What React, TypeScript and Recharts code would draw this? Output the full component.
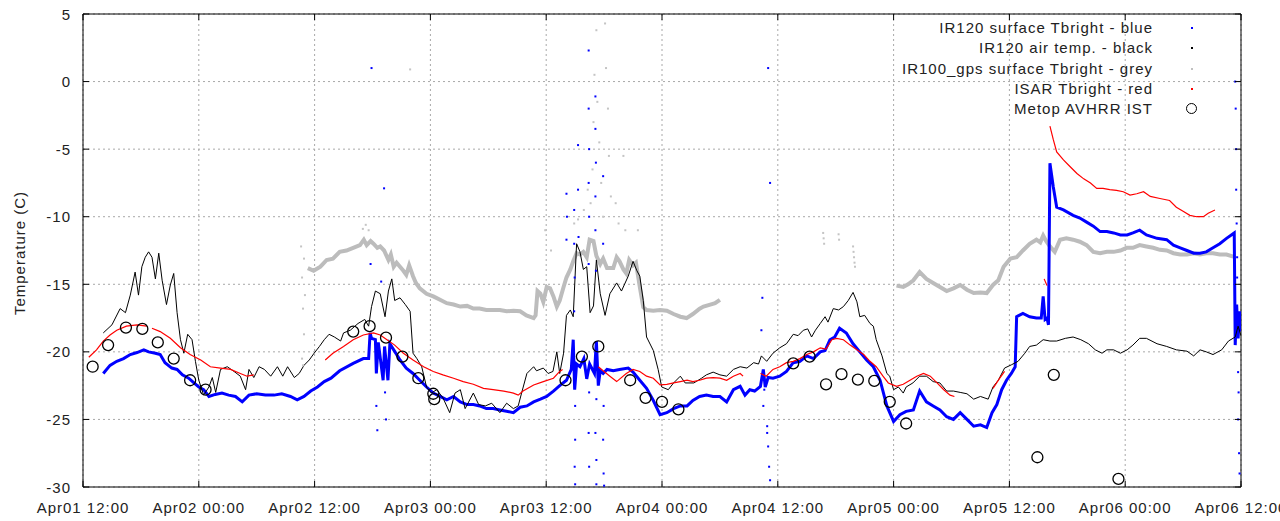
import React from "react";
import {
  ComposedChart, Line, Scatter, XAxis, YAxis, CartesianGrid, ReferenceArea,
} from "recharts";

// x is hours since Apr01 12:00, y is temperature in C
const xTicks = [0, 12, 24, 36, 48, 60, 72, 84, 96, 108, 120];
const xTickLabels = [
  "Apr01 12:00", "Apr02 00:00", "Apr02 12:00", "Apr03 00:00", "Apr03 12:00", "Apr04 00:00",
  "Apr04 12:00", "Apr05 00:00", "Apr05 12:00", "Apr06 00:00", "Apr06 12:00",
];
const xMinorTicks = [3, 6, 9, 15, 18, 21, 27, 30, 33, 39, 42, 45, 51, 54, 57, 63, 66, 69, 75, 78, 81, 87, 90, 93, 99, 102, 105, 111, 114, 117];
const yTicks = [-30, -25, -20, -15, -10, -5, 0, 5];

const irSurface: [number, number | null][] = [
  [2.1, -21.6], [2.8, -21.0], [3.5, -20.7], [4.2, -20.5], [4.9, -20.2], [5.6, -20.05], [6.3, -19.85], [6.8, -20.0],
  [7.5, -20.1], [8.0, -20.2], [8.5, -20.8], [9.2, -21.2], [9.75, -21.3], [10.3, -21.7], [10.95, -21.95], [11.5, -22.3],
  [12.0, -22.6], [12.5, -22.8], [13.05, -23.3], [13.7, -23.15], [14.4, -23.05], [15.1, -23.2], [15.8, -23.3], [16.5, -23.7],
  [17.2, -23.2], [18.0, -23.1], [18.9, -23.2], [19.8, -23.2], [20.6, -23.1], [21.5, -23.3], [22.2, -23.55], [22.9, -23.3],
  [23.6, -22.9], [24.3, -22.6], [25.0, -22.2], [25.7, -21.95], [26.6, -21.4], [28.0, -20.85], [29.05, -20.5], [29.6, -20.5],
  [29.75, -18.6], [29.9, -19.0], [30.3, -19.1], [30.4, -21.6], [30.6, -19.3], [31.1, -22.1], [31.25, -19.6], [31.6, -22.1],
  [31.8, -19.4], [32.2, -19.85], [32.85, -20.6], [33.5, -21.2], [34.2, -21.6], [34.9, -22.1], [35.6, -22.6], [36.3, -23.05],
  [37.0, -23.3], [37.7, -23.55], [38.4, -23.3], [39.1, -23.7], [39.8, -23.9], [40.45, -23.9], [41.1, -24.0], [41.8, -24.2],
  [42.5, -24.2], [43.2, -24.3], [43.9, -24.4], [44.6, -24.5], [45.3, -24.1], [46.0, -24.0], [46.7, -23.7], [47.4, -23.5],
  [48.05, -23.3], [48.75, -22.9], [49.4, -22.5], [50.1, -22.1], [50.6, -21.3], [50.8, -19.1], [50.95, -22.8], [51.15, -20.9],
  [51.5, -21.1], [51.9, -20.5], [52.2, -22.0], [52.5, -20.9], [53.0, -21.6], [53.2, -19.2], [53.4, -22.5], [53.6, -21.4],
  [53.9, -21.6], [54.3, -21.3], [54.95, -21.4], [55.6, -21.3], [56.5, -21.2], [57.0, -21.5], [57.7, -22.1], [58.4, -22.7],
  [59.1, -23.6], [59.8, -24.65], [60.5, -24.5], [61.2, -24.2], [61.9, -24.0], [62.6, -24.0], [63.2, -23.6], [63.9, -23.3],
  [64.6, -23.2], [65.3, -23.3], [66.0, -23.3], [66.7, -23.7], [67.4, -22.8], [68.1, -22.55], [68.6, -23.2], [69.1, -22.8],
  [69.6, -22.9], [70.2, -22.55], [70.5, -21.3], [70.7, -22.6], [71.0, -21.9], [71.5, -21.95], [72.2, -21.8], [72.9, -21.45],
  [73.6, -20.8], [74.3, -20.7], [75.0, -20.3], [75.7, -20.5], [76.4, -20.0], [76.9, -19.9], [77.4, -19.1], [77.9, -18.9],
  [78.4, -18.25], [79.1, -18.6], [79.8, -19.4], [80.5, -20.0], [81.2, -20.6], [81.9, -21.1], [82.6, -22.1], [83.3, -24.0],
  [84.0, -25.15], [84.65, -24.65], [85.3, -24.4], [86.05, -24.3], [86.7, -22.9], [87.4, -23.7], [88.1, -24.0], [88.8, -24.3],
  [89.5, -24.8], [90.2, -25.0], [90.9, -24.5], [91.6, -25.0], [92.3, -25.5], [93.0, -25.4], [93.65, -25.6], [94.2, -24.5],
  [94.7, -23.9], [95.2, -22.8], [95.7, -22.1], [96.2, -21.6], [96.6, -21.1], [96.75, -17.4], [97.4, -17.15], [98.1, -17.4],
  [98.8, -17.5], [99.3, -17.5], [99.5, -15.9], [99.7, -17.6], [99.9, -17.5], [100.05, -18.0], [100.2, -6.05], [100.55, -7.8],
  [100.9, -9.3], [101.6, -9.5], [102.6, -9.9], [103.3, -10.1], [104.0, -10.4], [104.7, -10.7], [105.4, -11.1], [106.1, -11.1],
  [106.8, -11.2], [107.5, -11.35], [108.2, -11.35], [108.8, -11.2], [109.5, -11.0], [110.2, -11.35], [111.3, -11.6], [112.3, -11.7],
  [113.0, -12.1], [113.7, -12.3], [114.4, -12.5], [115.1, -12.7], [115.75, -12.7], [116.4, -12.6], [117.1, -12.3], [117.8, -12.0],
  [118.5, -11.6], [119.0, -11.35], [119.3, -11.2], [119.4, -19.5], [119.55, -16.5], [119.7, -19.0], [119.85, -17.0], [120.0, -18.5],
];

const irSurfaceStray: [number, number][] = [
  [29.9, 1.0], [30.4, -24.0], [30.5, -25.8], [31.3, -23.0], [31.4, -25.0], [31.2, -7.9], [29.8, -13.5], [30.9, -14.8],
  [50.1, -8.3], [50.15, -10.0], [50.1, -11.7], [50.9, -9.5], [50.9, -12.0], [50.95, -14.5], [50.9, -17.0], [51.0, -24.0],
  [51.0, -26.5], [50.95, -28.5], [51.0, -29.8], [51.3, -4.7], [51.3, -8.0], [51.35, -11.5],
  [52.4, 2.3], [52.4, -2.0], [52.45, -5.0], [52.4, -7.5], [52.45, -10.0], [52.4, -13.5], [52.45, -23.0], [52.4, -26.0], [52.45, -28.5],
  [53.1, -1.1], [53.1, -3.5], [53.15, -6.0], [53.1, -8.5], [53.1, -11.0], [53.15, -14.0], [53.2, -23.5], [53.1, -26.0],
  [53.2, -28.0], [53.2, -29.8], [53.9, -7.0], [53.9, -12.0], [53.95, -24.0], [53.9, -26.5], [53.95, -29.0], [54.0, -29.9],
  [70.3, -18.4], [70.5, -24.0], [70.9, -25.5], [71.0, -27.0], [71.1, -28.5], [71.2, -29.5], [70.9, -26.0], [70.6, -22.8],
  [70.4, -16.0], [71.0, 1.0], [71.2, -7.5],
  [119.4, 0.0], [119.45, -2.0], [119.5, -5.0], [119.5, -8.0], [119.55, -10.5], [119.6, -13.0], [119.6, -14.5], [119.7, -21.5],
  [119.75, -23.0], [119.7, -25.0], [119.8, -27.5], [119.85, -29.0],
];

const irAir: [number, number | null][] = [
  [2.1, -18.6], [3.0, -18.0], [3.85, -16.8], [4.4, -17.1], [4.9, -15.8], [5.4, -14.1], [5.75, -15.8], [6.1, -13.7],
  [6.45, -13.0], [6.8, -12.6], [7.15, -13.0], [7.5, -14.6], [7.85, -12.7], [8.2, -14.7], [8.65, -16.5], [9.05, -15.05],
  [9.4, -14.2], [9.75, -17.1], [10.1, -19.1], [10.45, -20.1], [10.85, -18.7], [11.3, -19.1], [11.65, -20.7], [12.0, -22.1],
  [12.5, -23.2], [13.05, -22.6], [13.4, -21.9], [13.75, -23.0], [14.25, -21.3], [14.95, -21.1], [15.65, -21.45], [16.3, -21.8],
  [16.85, -22.8], [17.2, -21.3], [17.7, -21.9], [18.25, -21.1], [18.8, -21.3], [19.45, -21.8], [20.15, -21.1], [20.7, -21.8],
  [21.2, -21.1], [21.9, -21.9], [22.4, -21.6], [22.9, -21.0], [23.45, -20.6], [23.95, -20.1], [24.5, -19.6], [25.0, -19.1],
  [25.5, -18.7], [26.05, -18.9], [26.7, -19.2], [27.0, -18.6], [27.7, -18.4], [28.5, -17.9], [29.2, -17.6], [29.6, -18.1],
  [29.9, -16.65], [30.3, -15.5], [30.8, -15.7], [31.3, -17.4], [31.65, -15.5], [32.0, -14.6], [32.3, -16.2], [32.85, -16.0],
  [33.4, -16.5], [33.9, -17.0], [34.2, -20.1], [34.6, -20.5], [35.1, -21.1], [35.6, -22.6], [36.1, -23.05], [36.65, -22.8],
  [37.3, -23.4], [38.0, -24.5], [38.55, -23.05], [39.1, -22.8], [39.6, -24.2], [40.45, -23.05], [41.0, -23.9], [41.7, -24.0],
  [42.35, -23.8], [43.2, -24.5], [43.9, -23.8], [44.6, -24.2], [45.1, -24.0], [45.45, -23.05], [46.0, -21.6], [46.7, -21.1],
  [47.0, -21.4], [47.7, -21.2], [48.2, -21.6], [48.7, -21.45], [49.1, -20.0], [49.4, -21.6], [49.8, -20.1], [50.1, -17.3],
  [50.5, -16.9], [50.8, -17.4], [51.15, -12.0], [51.5, -12.6], [51.85, -13.9], [52.2, -13.7], [52.55, -17.1], [52.9, -16.6],
  [53.2, -13.2], [53.6, -15.7], [54.1, -17.3], [54.6, -15.7], [55.3, -14.9], [55.8, -15.5], [56.5, -14.4], [57.0, -13.3],
  [57.4, -14.0], [57.7, -14.4], [58.06, -16.2], [58.4, -18.9], [59.1, -19.9], [59.6, -21.3], [59.97, -22.6], [60.65, -22.8],
  [61.2, -22.3], [61.9, -21.8], [62.4, -22.3], [63.3, -22.3], [64.1, -21.95], [64.6, -21.7], [65.3, -21.5], [66.0, -21.7],
  [66.7, -21.8], [67.4, -21.3], [68.1, -21.1], [68.8, -21.2], [69.5, -20.8], [70.0, -20.9], [70.3, -20.3], [70.85, -20.7],
  [71.5, -20.1], [72.2, -19.7], [72.9, -19.4], [73.6, -18.7], [74.1, -18.8], [74.65, -18.4], [75.1, -18.3], [75.5, -18.9],
  [75.9, -18.4], [76.4, -17.9], [76.9, -17.4], [77.2, -17.8], [77.75, -16.8], [78.3, -16.9], [78.8, -16.65], [79.3, -16.2],
  [79.8, -15.6], [80.2, -16.3], [80.5, -17.4], [81.0, -17.3], [81.55, -17.9], [81.9, -18.1], [82.2, -19.1], [82.8, -20.3],
  [83.3, -21.6], [83.6, -21.8], [84.0, -22.8], [84.5, -22.6], [85.0, -23.05], [85.3, -22.6], [86.0, -22.3], [86.7, -21.8],
  [87.4, -21.8], [88.1, -22.2], [88.8, -22.3], [89.5, -22.9], [90.2, -22.9], [90.9, -23.0], [91.6, -23.1], [92.3, -23.5],
  [93.0, -23.3], [93.8, -23.5], [94.3, -22.6], [94.85, -22.1], [95.5, -21.2], [96.2, -20.96], [96.9, -20.7], [97.6, -20.1],
  [98.1, -19.6], [98.8, -19.5], [99.5, -19.1], [100.2, -19.2], [100.9, -19.2], [101.8, -19.0], [102.6, -18.9], [103.4, -19.1],
  [104.2, -19.4], [104.9, -19.85], [105.6, -20.1], [106.1, -19.85], [106.8, -19.85], [107.5, -20.1], [108.2, -19.85], [108.8, -19.5],
  [109.5, -19.0], [110.2, -19.0], [111.3, -19.4], [112.3, -19.6], [113.3, -19.85], [114.4, -19.95], [115.1, -20.3], [115.75, -19.85],
  [116.4, -20.0], [117.1, -20.2], [118.0, -19.85], [118.7, -19.2], [119.4, -18.9], [119.7, -18.1], [120.0, -18.8],
];

const gpsSurface: [number, number | null][] = [
  [23.3, -13.8], [23.9, -14.0], [24.6, -13.7], [25.25, -13.2], [25.9, -13.1], [26.6, -12.6], [27.3, -12.5], [28.0, -12.3],
  [28.7, -12.1], [29.1, -11.7], [29.4, -12.1], [29.8, -11.8], [30.1, -12.0], [30.5, -12.3], [30.8, -12.2], [31.2, -12.5],
  [31.65, -13.2], [31.9, -12.8], [32.2, -13.7], [32.5, -13.4], [32.85, -13.7], [33.2, -14.0], [33.5, -14.3], [33.8, -13.6],
  [34.2, -14.4], [34.5, -14.9], [34.9, -15.3], [35.6, -15.7], [36.3, -15.9], [37.0, -16.15], [37.7, -16.4], [38.4, -16.5],
  [39.1, -16.65], [39.8, -16.6], [40.45, -16.8], [41.1, -16.8], [41.8, -16.9], [42.5, -16.9], [43.2, -16.9], [43.9, -17.0],
  [44.6, -16.95], [45.3, -17.0], [45.95, -17.3], [46.7, -17.5], [46.9, -17.3], [47.1, -15.5], [47.4, -15.7], [47.7, -16.3],
  [48.05, -15.2], [48.4, -15.3], [48.75, -15.9], [49.1, -16.65], [49.4, -16.2], [49.8, -15.2], [50.1, -14.5], [50.5, -13.9],
  [50.8, -13.3], [51.15, -12.7], [51.5, -12.8], [51.85, -12.6], [52.2, -13.0], [52.5, -11.7], [52.9, -11.8], [53.2, -12.9],
  [53.6, -13.5], [53.9, -13.1], [54.3, -13.8], [54.95, -13.8], [55.3, -13.0], [55.6, -13.3], [56.0, -13.9], [56.3, -14.2],
  [56.6, -13.2], [57.0, -13.6], [57.3, -13.4], [57.7, -15.2], [58.06, -16.7], [58.4, -16.9], [59.1, -16.95], [59.8, -16.9],
  [60.5, -16.95], [61.2, -17.2], [61.9, -17.4], [62.55, -17.5], [63.2, -17.2], [63.9, -16.8], [64.3, -16.65], [65.0, -16.5],
  [65.5, -16.4], [66.0, -16.15], [66.2, null],
  [84.3, -15.1], [85.0, -15.2], [85.5, -15.0], [86.05, -14.7], [86.7, -14.1], [87.4, -14.6], [88.1, -14.9], [88.8, -15.2],
  [89.5, -15.5], [90.2, -15.3], [90.9, -15.05], [91.6, -15.4], [92.3, -15.65], [93.0, -15.6], [93.65, -15.65], [94.3, -15.05],
  [94.85, -14.7], [95.4, -13.7], [96.1, -13.1], [96.75, -13.0], [97.4, -12.5], [98.1, -12.0], [98.8, -11.7], [99.2, -11.9],
  [99.5, -11.4], [99.8, -11.8], [100.2, -12.2], [100.7, -12.6], [101.25, -11.7], [101.9, -11.6], [102.6, -11.7], [103.3, -11.85],
  [104.0, -12.1], [104.7, -12.6], [105.4, -12.7], [106.1, -12.6], [106.8, -12.6], [107.5, -12.5], [108.15, -12.3], [108.8, -12.3],
  [109.5, -12.1], [110.2, -12.2], [110.9, -12.3], [111.6, -12.45], [112.3, -12.5], [113.0, -12.7], [113.7, -12.8], [114.4, -12.8],
  [115.1, -12.7], [115.75, -12.8], [116.4, -12.7], [117.1, -12.7], [117.8, -12.8], [118.5, -12.8], [119.2, -12.95],
];

const gpsStray: [number, number][] = [
  [22.6, -12.2], [22.7, -14.5], [22.8, -16.8], [22.9, -18.7], [22.7, -20.5], [22.8, -21.0], [23.0, -15.8], [22.9, -13.1],
  [29.0, -10.9], [29.3, -10.6], [29.6, -11.0], [33.9, 0.9], [47.9, -11.0], [48.5, -12.5], [50.9, -10.5], [51.3, -10.2],
  [51.9, -9.5], [52.3, -8.0], [52.6, -9.0], [52.8, -6.5], [52.9, -3.0], [53.0, 0.5], [53.2, 3.8], [53.3, -1.5], [53.5, -4.5],
  [53.7, -7.5], [53.9, -10.0], [54.1, 4.3], [54.2, 1.0], [54.4, -2.0], [54.5, -5.5], [54.7, -8.5], [55.2, -9.0], [55.5, -10.5],
  [56.0, -5.5], [56.2, -11.0], [57.5, -11.0],
  [76.7, -11.2], [76.75, -11.6], [76.8, -12.0], [78.3, -11.3], [78.35, -11.7], [79.8, -12.2], [79.85, -12.6], [79.9, -13.0],
  [79.95, -13.4], [80.0, -13.7],
];

const isar: [number, number | null][] = [
  [0.6, -20.4], [1.4, -19.85], [2.1, -19.2], [2.8, -18.75], [3.5, -18.4], [4.5, -18.1], [5.6, -18.0], [6.6, -18.1], [6.9, null],
  [7.15, -18.25], [8.0, -18.5], [9.05, -19.0], [10.1, -19.7], [11.1, -20.2], [12.2, -20.6], [13.2, -21.1], [14.25, -21.2],
  [15.3, -21.3], [16.3, -21.6], [17.0, -21.8], [17.7, -21.7], [18.0, null],
  [25.1, -20.6], [25.9, -20.1], [27.0, -19.6], [28.0, -19.1], [29.05, -18.75], [30.1, -18.6], [30.8, -18.75], [31.5, -19.1],
  [32.3, -19.5], [33.2, -20.1], [34.2, -20.6], [35.3, -21.1], [36.3, -21.45], [37.3, -21.7], [38.4, -21.95], [39.4, -22.2],
  [40.45, -22.4], [41.5, -22.7], [42.5, -22.8], [43.6, -22.9], [44.6, -23.05], [45.1, -23.2], [45.6, -22.9], [46.7, -22.45],
  [47.7, -22.2], [48.75, -21.95], [49.4, -21.45], [49.7, -21.3], [50.0, null],
  [53.4, -21.1], [53.9, -21.4], [54.6, -21.8], [55.3, -22.2], [56.3, -21.6], [57.0, -21.3], [57.7, -21.45], [58.4, -21.8],
  [59.1, -21.95], [59.8, -22.45], [60.5, -22.4], [61.2, -22.3], [61.9, -22.2], [62.6, -22.1], [63.2, -22.2], [63.9, -22.1],
  [64.6, -21.95], [65.3, -21.9], [66.0, -21.95], [66.7, -22.1], [67.4, -21.8], [68.1, -21.6], [68.4, -21.8], [68.8, null],
  [70.2, -21.6], [70.8, -21.8], [71.5, -21.3], [72.2, -21.1], [72.9, -20.8], [73.6, -20.7], [74.3, -20.5], [75.0, -20.2],
  [75.7, -20.0], [76.4, -19.7], [77.0, -19.8], [77.6, -19.1], [78.1, -19.0], [78.8, -19.1], [79.5, -19.5], [80.2, -19.85],
  [80.9, -20.2], [81.55, -20.7], [82.2, -21.1], [82.9, -21.8], [83.45, -22.3], [84.3, -22.55], [85.0, -22.4], [85.7, -22.1],
  [86.4, -21.8], [87.1, -21.6], [87.8, -21.8], [88.5, -22.3], [89.2, -22.8], [89.85, -23.2], [90.3, -23.3], [90.6, null],
  [94.3, -22.7], [95.0, -21.95], [95.5, -21.45], [95.8, null],
  [99.6, -14.6], [99.9, -15.1], [100.0, null],
  [100.2, -3.3], [100.55, -4.3], [100.9, -5.2], [101.6, -5.8], [102.3, -6.3], [103.0, -6.8], [103.7, -7.2], [104.4, -7.5],
  [105.05, -7.9], [105.7, -7.9], [106.4, -8.0], [107.1, -8.05], [107.8, -8.15], [108.5, -8.4], [109.2, -8.3], [109.9, -8.15],
  [110.6, -8.5], [111.6, -8.65], [112.6, -8.8], [113.3, -9.3], [114.0, -9.6], [114.7, -9.9], [115.4, -10.0], [116.1, -10.0],
  [116.6, -9.75], [117.3, -9.5],
];

const metopIst: [number, number][] = [
  [1.0, -21.1], [2.6, -19.5], [4.45, -18.2], [6.15, -18.3], [7.75, -19.3], [9.4, -20.5], [11.1, -22.1], [12.7, -22.8],
  [28.0, -18.5], [29.7, -18.1], [31.4, -18.95], [33.1, -20.35], [34.75, -21.95], [36.3, -23.1], [36.4, -23.5],
  [50.0, -22.1], [51.7, -20.35], [53.4, -19.6], [56.7, -22.1], [58.3, -23.4], [60.0, -23.7], [61.7, -24.25],
  [73.6, -20.85], [75.3, -20.35], [77.0, -22.4], [78.6, -21.65], [80.3, -22.05], [82.0, -22.15], [83.6, -23.7], [85.3, -25.3],
  [98.9, -27.8], [100.6, -21.7], [107.3, -29.4],
];

const toPts = (arr: [number, number | null][]) => arr.map(([t, v]) => ({ t, v }));

const PLOT_TOP = 14;
const PLOT_BOTTOM = 487;
const PLOT_LEFT = 83;
const PLOT_RIGHT = 1241;
const FONT = "'Liberation Sans', Arial, sans-serif";
const TEXT = "#222";

const XMajorTick = (props: any) => {
  const { x, index } = props;
  return (
    <g>
      <line x1={x} x2={x} y1={PLOT_BOTTOM} y2={PLOT_BOTTOM - 6} stroke="#000" />
      <line x1={x} x2={x} y1={PLOT_TOP} y2={PLOT_TOP + 6} stroke="#000" />
      <text x={x} y={507} textAnchor="middle" dominantBaseline="central" fontFamily={FONT}
        fontSize={15} letterSpacing={1} fill={TEXT}>{xTickLabels[index]}</text>
    </g>
  );
};

const XMinorTick = (props: any) => {
  const { x } = props;
  return (
    <g>
      <line x1={x} x2={x} y1={PLOT_BOTTOM} y2={PLOT_BOTTOM - 3} stroke="#000" />
      <line x1={x} x2={x} y1={PLOT_TOP} y2={PLOT_TOP + 3} stroke="#000" />
    </g>
  );
};

const YTick = (props: any) => {
  const { y, payload } = props;
  return (
    <g>
      <line x1={PLOT_LEFT} x2={PLOT_LEFT + 6} y1={y} y2={y} stroke="#000" />
      <line x1={PLOT_RIGHT} x2={PLOT_RIGHT - 6} y1={y} y2={y} stroke="#000" />
      <text x={71} y={y} textAnchor="end" dominantBaseline="central" fontFamily={FONT}
        fontSize={15} letterSpacing={1} fill={TEXT}>{payload.value}</text>
    </g>
  );
};

const dotShape = (color: string, size: number) => (p: any) =>
  <rect x={p.cx - size / 2} y={p.cy - size / 2} width={size} height={size} fill={color} />;

const ringShape = (p: any) =>
  <circle cx={p.cx} cy={p.cy} r={5.5} fill="none" stroke="#000" strokeWidth={1.3} />;

const legendRows = [
  { label: "IR120 surface Tbright - blue", color: "#0000ff", ring: false },
  { label: "IR120 air temp. - black", color: "#000000", ring: false },
  { label: "IR100_gps surface Tbright - grey", color: "#c0c0c0", ring: false },
  { label: "ISAR Tbright - red", color: "#ff0000", ring: false },
  { label: "Metop AVHRR IST", color: "#000000", ring: true },
];

export default function App() {
  return (
    <div style={{ position: "absolute", left: 0, top: 0, width: 1280, height: 521, background: "#fff" }}>
      <ComposedChart width={1280} height={521} margin={{ top: PLOT_TOP, right: 1280 - PLOT_RIGHT, bottom: 0, left: 0 }}>
        <CartesianGrid stroke="#a8a8a8" strokeDasharray="2 3" ticks={undefined} />
        <XAxis type="number" dataKey="t" domain={[0, 120]} ticks={xTicks} interval={0} height={521 - PLOT_BOTTOM}
          axisLine={false} tickLine={false} tick={XMajorTick} allowDataOverflow />
        <XAxis xAxisId="minor" orientation="top" type="number" dataKey="t" domain={[0, 120]} ticks={xMinorTicks}
          interval={0} height={0} axisLine={false} tickLine={false} tick={XMinorTick} />
        <YAxis type="number" domain={[-30, 5]} ticks={yTicks} interval={0} width={PLOT_LEFT} axisLine={false}
          tickLine={false} tick={YTick} allowDataOverflow
          label={(p: any) => (
            <text x={19} y={253} transform="rotate(-90 19 253)" textAnchor="middle" dominantBaseline="central"
              fontFamily={FONT} fontSize={15} letterSpacing={1} fill={TEXT}>Temperature (C)</text>
          )} />
        <ReferenceArea x1={0} x2={120} y1={-30} y2={5} fill="none" stroke="#000" strokeWidth={1} fillOpacity={0} />
        <Line data={toPts(gpsSurface)} dataKey="v" type="linear" stroke="#bcbcbc" strokeWidth={4} dot={false}
          isAnimationActive={false} />
        <Scatter data={toPts(gpsStray)} dataKey="v" shape={dotShape("#c4c4c4", 2)} isAnimationActive={false} />
        <Line data={toPts(irSurface)} dataKey="v" type="linear" stroke="#0000ff" strokeWidth={3} dot={false}
          isAnimationActive={false} />
        <Scatter data={toPts(irSurfaceStray)} dataKey="v" shape={dotShape("#0000ff", 2)} isAnimationActive={false} />
        <Line data={toPts(irAir)} dataKey="v" type="linear" stroke="#000000" strokeWidth={1} dot={false}
          isAnimationActive={false} />
        <Line data={toPts(isar)} dataKey="v" type="linear" stroke="#ff0000" strokeWidth={1.2} dot={false}
          isAnimationActive={false} />
        <Scatter data={toPts(metopIst)} dataKey="v" shape={ringShape} isAnimationActive={false} />
      </ComposedChart>
      <div style={{ position: "absolute", left: 0, top: 0, width: 1280, height: 0, fontFamily: FONT, fontSize: 15,
        letterSpacing: 1, color: TEXT }}>
        {legendRows.map((r, i) => {
          const cy = 28 + i * 20.25;
          return (
            <React.Fragment key={r.label}>
              <div style={{ position: "absolute", right: 1280 - 1153, top: cy - 9, lineHeight: "18px",
                whiteSpace: "nowrap" }}>{r.label}</div>
              {r.ring ? (
                <div style={{ position: "absolute", left: 1186, top: cy - 6, width: 9, height: 9,
                  border: "1.3px solid #000", borderRadius: "50%" }} />
              ) : (
                <div style={{ position: "absolute", left: 1191, top: cy - 1, width: 2, height: 2,
                  background: r.color }} />
              )}
            </React.Fragment>
          );
        })}
      </div>
    </div>
  );
}
